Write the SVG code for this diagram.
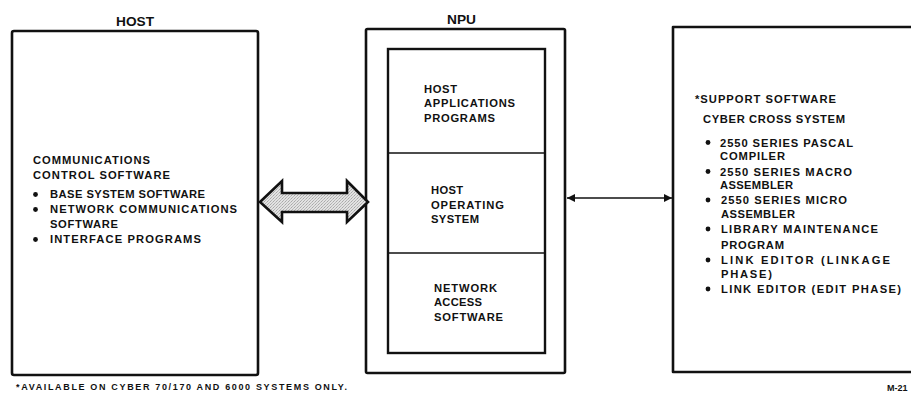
<svg xmlns="http://www.w3.org/2000/svg" width="911" height="393" viewBox="0 0 911 393">
  <style>
    text { font-family: "Liberation Sans", Arial, Helvetica, sans-serif; font-weight: bold; fill: #111; }
    .t { font-size: 11.2px; }
    .title { font-size: 13.5px; }
    .note { font-size: 9px; }
    .box { fill: none; stroke: #111; stroke-width: 2.6; stroke-linejoin: round; }
    .inner { fill: none; stroke: #111; stroke-width: 2.4; }
    .div { stroke: #111; stroke-width: 1.6; }
    .dot { fill: #111; }
  </style>
  <defs>
    <pattern id="stipple" width="3" height="3" patternUnits="userSpaceOnUse">
      <rect width="3" height="3" fill="#e2e2e2"/>
      <rect x="0" y="0" width="1" height="1" fill="#a8a8a8"/>
      <rect x="2" y="1" width="1" height="1" fill="#bcbcbc"/>
      <rect x="1" y="2" width="1" height="1" fill="#b4b4b4"/>
    </pattern>
    <marker id="head" viewBox="0 0 10 10" refX="10" refY="5" markerWidth="10" markerHeight="8" markerUnits="userSpaceOnUse" orient="auto-start-reverse">
      <path d="M0,0 L10,5 L0,10 z" fill="#111"/>
    </marker>
  </defs>

  <!-- Host computer -->
  <g id="host">
    <text class="title" x="116" y="26" textLength="38" lengthAdjust="spacingAndGlyphs">HOST</text>
    <rect class="box" x="12" y="31" width="246" height="344" rx="2"/>
    <text class="t" x="33" y="164" textLength="117" lengthAdjust="spacing">COMMUNICATIONS</text>
    <text class="t" x="33" y="179" textLength="137" lengthAdjust="spacing">CONTROL SOFTWARE</text>
    <circle class="dot" cx="35.5" cy="194.5" r="2.4"/>
    <text class="t" x="50" y="198" textLength="155" lengthAdjust="spacing">BASE SYSTEM SOFTWARE</text>
    <circle class="dot" cx="35.5" cy="209.5" r="2.4"/>
    <text class="t" x="50" y="213" textLength="187" lengthAdjust="spacing">NETWORK COMMUNICATIONS</text>
    <text class="t" x="50" y="228" textLength="68" lengthAdjust="spacing">SOFTWARE</text>
    <circle class="dot" cx="35.5" cy="239.5" r="2.4"/>
    <text class="t" x="50" y="243" textLength="151" lengthAdjust="spacing">INTERFACE PROGRAMS</text>
  </g>

  <!-- Network processing unit -->
  <g id="npu">
    <text class="title" x="447" y="24" textLength="29" lengthAdjust="spacingAndGlyphs">NPU</text>
    <rect class="box" x="366" y="29" width="199" height="344" rx="1.5"/>
    <rect class="inner" x="388" y="49" width="157" height="304"/>
    <line class="div" x1="388" y1="153" x2="545" y2="153"/>
    <line class="div" x1="388" y1="253" x2="545" y2="253"/>
    <g id="npu-apps">
      <text class="t" x="424" y="93" textLength="33" lengthAdjust="spacing">HOST</text>
      <text class="t" x="424" y="107" textLength="91" lengthAdjust="spacing">APPLICATIONS</text>
      <text class="t" x="424" y="122" textLength="71" lengthAdjust="spacing">PROGRAMS</text>
    </g>
    <g id="npu-os">
      <text class="t" x="431" y="194" textLength="32" lengthAdjust="spacing">HOST</text>
      <text class="t" x="431" y="209" textLength="73" lengthAdjust="spacing">OPERATING</text>
      <text class="t" x="431" y="223" textLength="48" lengthAdjust="spacing">SYSTEM</text>
    </g>
    <g id="npu-nas">
      <text class="t" x="434" y="292" textLength="63" lengthAdjust="spacing">NETWORK</text>
      <text class="t" x="434" y="306" textLength="48" lengthAdjust="spacing">ACCESS</text>
      <text class="t" x="434" y="321" textLength="69" lengthAdjust="spacing">SOFTWARE</text>
    </g>
  </g>

  <!-- Support software host -->
  <g id="support">
    <path class="box" d="M915,27 H673 V372 H915"/>
    <text class="t" x="695" y="103" textLength="141" lengthAdjust="spacing">*SUPPORT SOFTWARE</text>
    <text class="t" x="703" y="123" textLength="142" lengthAdjust="spacing">CYBER CROSS SYSTEM</text>
    <circle class="dot" cx="708" cy="142.5" r="2.4"/>
    <text class="t" x="720" y="147" textLength="133" lengthAdjust="spacing">2550 SERIES PASCAL</text>
    <text class="t" x="720" y="160" textLength="65" lengthAdjust="spacing">COMPILER</text>
    <circle class="dot" cx="708" cy="171.5" r="2.4"/>
    <text class="t" x="720" y="176" textLength="132" lengthAdjust="spacing">2550 SERIES MACRO</text>
    <text class="t" x="720" y="189" textLength="73" lengthAdjust="spacing">ASSEMBLER</text>
    <circle class="dot" cx="708" cy="200" r="2.4"/>
    <text class="t" x="721" y="204" textLength="126" lengthAdjust="spacing">2550 SERIES MICRO</text>
    <text class="t" x="721" y="218" textLength="74" lengthAdjust="spacing">ASSEMBLER</text>
    <circle class="dot" cx="708" cy="229" r="2.4"/>
    <text class="t" x="721" y="233" textLength="157" lengthAdjust="spacing">LIBRARY MAINTENANCE</text>
    <text class="t" x="721" y="249" textLength="63" lengthAdjust="spacing">PROGRAM</text>
    <circle class="dot" cx="708" cy="260" r="2.4"/>
    <text class="t" x="721" y="264" textLength="169" lengthAdjust="spacing">LINK EDITOR (LINKAGE</text>
    <text class="t" x="721" y="278" textLength="51" lengthAdjust="spacing">PHASE)</text>
    <circle class="dot" cx="708" cy="289" r="2.4"/>
    <text class="t" x="721" y="293" textLength="180" lengthAdjust="spacing">LINK EDITOR (EDIT PHASE)</text>
  </g>

  <!-- Links between units -->
  <g id="connectors">
    <polygon points="260,202 282,181 282,193 347,193 347,181 368,202 347,222 347,212 282,212 282,222" fill="url(#stipple)" stroke="#111" stroke-width="2.6" stroke-linejoin="miter"/>
    <line x1="567" y1="198" x2="672" y2="198" stroke="#111" stroke-width="1.6" marker-start="url(#head)" marker-end="url(#head)"/>
  </g>

  <!-- Footnotes -->
  <text class="note" x="16" y="390" textLength="331" lengthAdjust="spacing">*AVAILABLE ON CYBER 70/170 AND 6000 SYSTEMS ONLY.</text>
  <text class="note" x="887" y="391" font-size="7.5">M-21</text>
</svg>
